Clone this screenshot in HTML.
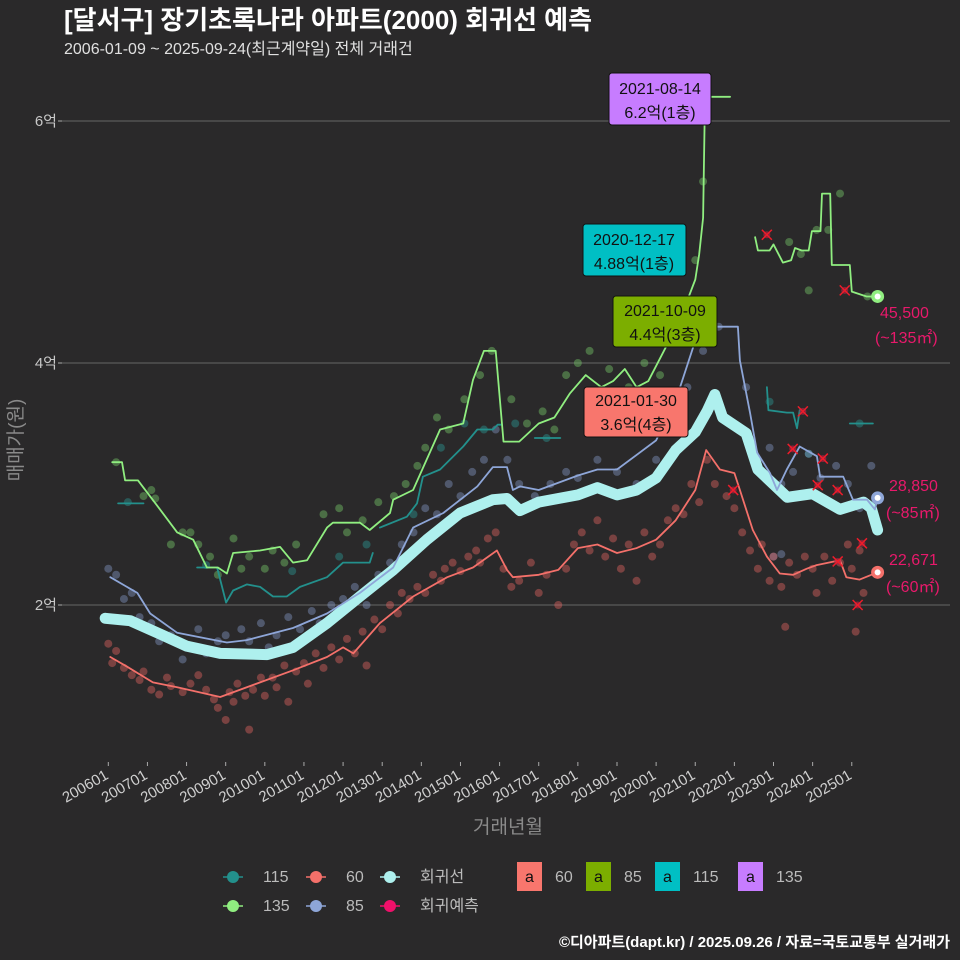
<!DOCTYPE html>
<html><head><meta charset="utf-8">
<style>
html,body{margin:0;padding:0;background:#2a292a;}
#wrap{position:relative;width:960px;height:960px;background:#2a292a;overflow:hidden;font-family:"Liberation Sans","Noto Sans CJK KR",sans-serif;}
svg text{font-family:"Liberation Sans","Noto Sans CJK KR",sans-serif;}
</style></head>
<body>
<div id="wrap">
<svg id="chart" width="960" height="960" viewBox="0 0 960 960">
  <text x="64" y="29" fill="#ffffff" font-size="26" font-weight="bold">[달서구] 장기초록나라 아파트(2000) 회귀선 예측</text>
  <text x="64" y="54" fill="#e0e0e0" font-size="16">2006-01-09 ~ 2025-09-24(최근계약일) 전체 거래건</text>
  <g id="grid"></g>
  <g id="marks"></g>
  <g id="axes"></g>
  <text transform="translate(22,440) rotate(-90)" text-anchor="middle" fill="#8a8a8a" font-size="19">매매가(원)</text>
  <text x="508" y="833" text-anchor="middle" fill="#8a8a8a" font-size="19">거래년월</text>

  <g>
    <rect x="609" y="73" width="102" height="52" rx="3" fill="#c77cff" stroke="#111" stroke-width="1"/>
    <text x="660" y="94" text-anchor="middle" font-size="16" fill="#111">2021-08-14</text>
    <text x="660" y="118" text-anchor="middle" font-size="16" fill="#111">6.2억(1층)</text>
  </g>
  <g>
    <rect x="583" y="224" width="103" height="52" rx="3" fill="#00bfc4" stroke="#111" stroke-width="1"/>
    <text x="634" y="245" text-anchor="middle" font-size="16" fill="#111">2020-12-17</text>
    <text x="634" y="269" text-anchor="middle" font-size="16" fill="#111">4.88억(1층)</text>
  </g>
  <g>
    <rect x="613" y="296" width="104" height="51" rx="3" fill="#7cae00" stroke="#111" stroke-width="1"/>
    <text x="665" y="316" text-anchor="middle" font-size="16" fill="#111">2021-10-09</text>
    <text x="665" y="340" text-anchor="middle" font-size="16" fill="#111">4.4억(3층)</text>
  </g>
  <g>
    <rect x="584" y="387" width="104" height="50" rx="3" fill="#f8766d" stroke="#111" stroke-width="1"/>
    <text x="636" y="406" text-anchor="middle" font-size="16" fill="#111">2021-01-30</text>
    <text x="636" y="430" text-anchor="middle" font-size="16" fill="#111">3.6억(4층)</text>
  </g>

  <g fill="#e8196b" font-size="16">
    <text x="880" y="318">45,500</text>
    <text x="875" y="343">(~135㎡)</text>
    <text x="889" y="491">28,850</text>
    <text x="886" y="518">(~85㎡)</text>
    <text x="889" y="565">22,671</text>
    <text x="886" y="592">(~60㎡)</text>
  </g>

  <g id="legend" font-size="15" fill="#bbbbbb"></g>
  <text x="950" y="947" text-anchor="end" fill="#ffffff" font-size="15" font-weight="bold">©디아파트(dapt.kr) / 2025.09.26 / 자료=국토교통부 실거래가</text>
</svg>
</div>
<script>
// ---- data ----
const yTicks = [2, 4, 6];
const yTickLabels = ["2억", "4억", "6억"];
const xTicks = [2006,2007,2008,2009,2010,2011,2012,2013,2014,2015,2016,2017,2018,2019,2020,2021,2022,2023,2024,2025];
const xTickLabels = ["200601","200701","200801","200901","201001","201101","201201","201301","201401","201501","201601","201701","201801","201901","202001","202101","202201","202301","202401","202501"];

const regLine = [[2005.92,1.89],[2006.56,1.87],[2007.32,1.76],[2008.0,1.66],[2008.86,1.6],[2010.06,1.59],[2010.72,1.65],[2011.59,1.85],[2012.43,2.07],[2013.28,2.29],[2014.14,2.54],[2014.99,2.76],[2015.83,2.87],[2016.19,2.88],[2016.52,2.78],[2017.0,2.85],[2018.0,2.91],[2018.5,2.97],[2019.0,2.91],[2019.5,2.95],[2020.0,3.05],[2020.5,3.28],[2021.0,3.43],[2021.3,3.6],[2021.5,3.74],[2021.7,3.55],[2022.3,3.42],[2022.6,3.12],[2023.35,2.89],[2024.0,2.92],[2024.7,2.79],[2025.3,2.85],[2025.5,2.8],[2025.66,2.62]];

const line60 = [[2006.05,1.57],[2006.48,1.49],[2007.14,1.36],[2007.76,1.32],[2008.86,1.24],[2009.88,1.36],[2010.72,1.46],[2011.59,1.57],[2012.0,1.65],[2012.26,1.6],[2012.94,1.85],[2013.79,2.07],[2014.66,2.23],[2015.32,2.31],[2015.93,2.45],[2016.19,2.29],[2016.34,2.23],[2017.0,2.25],[2017.5,2.29],[2018.0,2.47],[2018.5,2.5],[2019.0,2.43],[2019.5,2.47],[2020.0,2.54],[2020.5,2.7],[2021.0,2.95],[2021.28,3.28],[2021.63,3.12],[2022.0,3.09],[2022.14,2.95],[2022.47,2.62],[2022.83,2.4],[2023.16,2.26],[2023.5,2.25],[2023.85,2.3],[2024.1,2.33],[2024.7,2.37],[2024.86,2.23],[2025.2,2.21],[2025.66,2.27]];

const line85 = [[2006.05,2.23],[2006.74,2.1],[2007.07,1.93],[2007.76,1.77],[2009.03,1.69],[2009.54,1.71],[2010.72,1.81],[2011.59,1.93],[2012.43,2.1],[2013.28,2.31],[2013.79,2.64],[2014.56,2.76],[2015.43,2.98],[2015.83,3.14],[2016.19,3.14],[2016.34,2.95],[2016.52,2.98],[2017.0,2.95],[2018.0,3.07],[2018.5,3.12],[2019.0,3.12],[2020.0,3.36],[2020.5,3.69],[2021.12,4.3],[2021.63,4.3],[2022.09,4.3],[2022.14,4.02],[2022.4,3.59],[2022.58,3.26],[2022.91,3.09],[2023.09,2.95],[2023.34,3.12],[2023.67,3.31],[2024.11,3.23],[2024.19,3.06],[2024.78,3.06],[2025.03,2.87],[2025.39,2.87],[2025.59,2.79],[2025.66,2.885]];

const line135a = [[2006.1,3.18],[2006.35,3.18],[2006.43,3.03],[2006.76,3.03],[2007.32,2.79],[2007.76,2.6],[2008.17,2.54],[2008.52,2.31],[2008.8,2.31],[2009.03,2.26],[2009.19,2.43],[2009.88,2.45],[2010.39,2.48],[2010.72,2.35],[2011.08,2.37],[2011.59,2.64],[2011.74,2.68],[2012.43,2.68],[2012.68,2.62],[2013.2,2.76],[2013.28,2.87],[2013.79,2.95],[2014.48,3.45],[2015.07,3.5],[2015.32,3.86],[2015.6,4.1],[2015.9,4.1],[2016.1,3.35],[2016.5,3.35],[2017.0,3.5],[2017.4,3.55],[2017.8,3.75],[2018.2,3.9],[2018.6,3.8],[2018.9,3.85],[2019.2,3.95],[2019.5,3.8],[2019.8,3.85],[2020.2,4.1],[2020.6,4.35],[2021.0,4.69],[2021.1,4.9],[2021.2,5.2],[2021.25,6.2],[2021.89,6.2]];
const line135b = [[2022.53,5.04],[2022.6,4.93],[2022.9,4.93],[2023.0,4.98],[2023.24,4.83],[2023.45,4.85],[2023.55,4.95],[2023.72,4.93],[2023.9,4.93],[2023.98,5.09],[2024.2,5.09],[2024.24,5.4],[2024.45,5.4],[2024.49,4.81],[2024.95,4.81],[2025.0,4.59],[2025.38,4.55],[2025.66,4.55]];

const line115a = [[2006.25,2.84],[2006.9,2.84]];
const line115b = [[2008.27,2.31],[2008.78,2.31],[2009.01,2.02],[2009.19,2.12],[2009.54,2.17],[2009.88,2.15],[2010.21,2.07],[2010.56,2.07],[2010.9,2.15],[2011.59,2.23],[2012.0,2.35],[2012.68,2.35],[2012.76,2.43]];
const line115c = [[2012.94,2.64],[2013.63,2.73],[2013.89,2.84],[2014.04,3.06],[2014.48,3.12],[2015.07,3.31],[2015.43,3.45],[2015.83,3.45],[2015.95,3.49],[2016.06,3.49]];
const line115d = [[2016.9,3.38],[2017.55,3.38]];
const line115e = [[2018.3,3.61],[2018.8,3.61]];
const line115f = [[2022.83,3.8],[2022.87,3.61],[2023.34,3.59],[2023.5,3.59],[2023.6,3.46],[2023.67,3.61]];
const line115g = [[2024.95,3.5],[2025.54,3.5]];

const dots60 = [[2006.0,1.68],[2006.1,1.52],[2006.2,1.62],[2006.4,1.48],[2006.6,1.42],[2006.8,1.38],[2006.9,1.45],[2007.1,1.3],[2007.3,1.26],[2007.5,1.4],[2007.6,1.33],[2007.9,1.28],[2008.1,1.35],[2008.3,1.42],[2008.5,1.3],[2008.7,1.22],[2008.8,1.15],[2009.0,1.05],[2009.1,1.28],[2009.2,1.2],[2009.3,1.35],[2009.5,1.25],[2009.6,0.97],[2009.7,1.3],[2009.9,1.4],[2010.0,1.25],[2010.2,1.4],[2010.3,1.32],[2010.5,1.5],[2010.6,1.2],[2010.8,1.45],[2011.0,1.52],[2011.1,1.35],[2011.3,1.6],[2011.5,1.48],[2011.7,1.65],[2011.9,1.55],[2012.1,1.72],[2012.3,1.6],[2012.5,1.78],[2012.6,1.5],[2012.8,1.88],[2013.0,1.8],[2013.2,2.0],[2013.4,1.93],[2013.5,2.1],[2013.7,2.05],[2013.9,2.15],[2014.1,2.1],[2014.3,2.25],[2014.5,2.2],[2014.6,2.3],[2014.8,2.35],[2015.0,2.28],[2015.2,2.4],[2015.4,2.45],[2015.5,2.35],[2015.7,2.55],[2015.9,2.6],[2016.1,2.3],[2016.3,2.15],[2016.5,2.2],[2016.8,2.35],[2017.0,2.1],[2017.2,2.25],[2017.5,2.0],[2017.7,2.3],[2017.9,2.5],[2018.1,2.6],[2018.3,2.45],[2018.5,2.7],[2018.7,2.4],[2018.9,2.55],[2019.1,2.3],[2019.3,2.5],[2019.5,2.2],[2019.7,2.6],[2019.9,2.4],[2020.1,2.5],[2020.3,2.7],[2020.5,2.8],[2020.7,2.75],[2020.9,3.0],[2021.1,2.85],[2021.3,3.2],[2021.5,3.0],[2021.8,2.9],[2022.0,2.8],[2022.2,2.6],[2022.4,2.45],[2022.6,2.3],[2022.7,2.5],[2022.9,2.2],[2023.0,2.4],[2023.2,2.15],[2023.3,1.82],[2023.4,2.35],[2023.6,2.25],[2023.8,2.4],[2024.0,2.3],[2024.1,2.1],[2024.3,2.4],[2024.5,2.2],[2024.7,2.35],[2024.9,2.5],[2025.0,2.3],[2025.1,1.78],[2025.2,2.45],[2025.3,2.1]];
const dots85 = [[2006.0,2.3],[2006.2,2.25],[2006.4,2.05],[2006.6,2.1],[2006.8,1.9],[2007.1,1.85],[2007.3,1.7],[2007.6,1.75],[2007.9,1.55],[2008.1,1.65],[2008.3,1.8],[2008.5,1.6],[2008.8,1.7],[2009.0,1.75],[2009.2,1.6],[2009.4,1.8],[2009.6,1.7],[2009.9,1.85],[2010.1,1.65],[2010.3,1.75],[2010.6,1.9],[2010.9,1.8],[2011.2,1.95],[2011.4,1.85],[2011.7,2.0],[2012.0,2.05],[2012.3,2.15],[2012.6,2.0],[2012.9,2.25],[2013.2,2.35],[2013.5,2.5],[2013.8,2.6],[2014.1,2.8],[2014.4,2.75],[2014.7,3.0],[2015.0,2.9],[2015.3,3.1],[2015.6,3.2],[2015.9,3.45],[2016.2,3.2],[2016.5,3.0],[2016.9,2.9],[2017.3,3.0],[2017.7,3.1],[2018.0,3.05],[2018.5,3.2],[2019.0,3.1],[2019.5,3.0],[2020.0,3.2],[2020.4,3.5],[2020.8,3.8],[2021.2,4.1],[2021.6,4.3],[2022.3,3.8],[2022.6,3.2],[2022.9,3.3],[2023.2,3.0],[2023.5,3.1],[2023.9,3.25],[2024.2,3.05],[2024.6,3.15],[2024.9,3.0],[2025.2,2.8],[2025.5,3.15],[2023.0,2.4],[2023.2,2.42]];
const dots135 = [[2006.2,3.18],[2006.9,2.9],[2007.1,2.95],[2007.2,2.88],[2007.6,2.5],[2007.9,2.6],[2008.1,2.6],[2008.3,2.5],[2008.6,2.4],[2008.8,2.25],[2009.2,2.55],[2009.4,2.3],[2009.6,2.4],[2010.0,2.3],[2010.2,2.45],[2010.5,2.35],[2010.8,2.5],[2011.5,2.75],[2011.9,2.8],[2012.1,2.6],[2012.5,2.7],[2012.9,2.85],[2013.3,2.9],[2013.6,3.0],[2013.9,3.15],[2014.1,3.3],[2014.4,3.55],[2014.7,3.45],[2015.1,3.7],[2015.5,3.9],[2015.8,4.1],[2016.3,3.7],[2016.7,3.5],[2017.1,3.6],[2017.4,3.45],[2017.7,3.9],[2018.0,4.0],[2018.3,4.1],[2018.8,3.95],[2019.3,3.8],[2019.7,4.0],[2020.1,3.9],[2020.6,4.3],[2021.0,4.85],[2021.2,5.5],[2023.4,5.0],[2023.7,4.9],[2023.9,4.6],[2024.1,5.1],[2024.4,5.1],[2024.7,5.4],[2025.4,4.55]];
const dots115 = [[2006.5,2.85],[2008.5,2.33],[2010.7,2.28],[2011.9,2.4],[2012.6,2.5],[2013.8,2.75],[2014.5,3.3],[2015.1,3.5],[2015.6,3.45],[2016.4,3.5],[2017.2,3.38],[2018.4,3.65],[2022.9,3.68],[2023.9,3.25],[2025.2,3.5]];
const forecastT = [2022.83,2024.82,2023.75,2023.49,2024.26,2024.13,2024.64,2021.97,2024.64,2025.26,2025.15];
const forecastV = [5.06,4.60,3.60,3.29,3.21,2.99,2.95,2.95,2.36,2.51,2.0];
const endT = [2025.66,2025.66,2025.66];
const endV = [4.55,2.885,2.27];
const endColors = ["#90ee80","#8ea6d8","#f4706a"];

// ---- scales ----
const NS = "http://www.w3.org/2000/svg";
const X0 = 108.3, PX = 39.13;
function xs(t){ return X0 + (t - 2006) * PX; }
function ys(v){ return 847 - v * 121; }
function mk(tag, attrs, parent){ const e = document.createElementNS(NS, tag); for (const k in attrs) e.setAttribute(k, attrs[k]); parent.appendChild(e); return e; }

const grid = document.getElementById('grid');
const marks = document.getElementById('marks');
const axes = document.getElementById('axes');

yTicks.forEach((v, i) => {
  const gl = mk('line', {x1: 62, x2: 950, y1: ys(v), y2: ys(v), stroke: '#666', 'stroke-width': 1}, grid);
  
  
  const tk = mk('line', {x1: 58, x2: 62, y1: ys(v), y2: ys(v), stroke: '#aaa', 'stroke-width': 1}, axes);
  
  
  const tx = mk('text', {x: 57, y: ys(v) + 5, 'text-anchor': 'end', fill: '#c8c8c8', 'font-size': 15}, axes);
  tx.textContent = yTickLabels[i];
  
  
});
xTicks.forEach((t, i) => {
  const x = xs(t);
  const tk = mk('line', {x1: x, x2: x, y1: 762, y2: 766, stroke: '#aaa', 'stroke-width': 1}, axes);
  
  
  const ax = x + 1, ay = 778;
  const tx = mk('text', {x: ax, y: ay, 'text-anchor': 'end', fill: '#d0d0d0', 'font-size': 15, transform: `rotate(-30 ${ax} ${ay})`}, axes);
  tx.textContent = xTickLabels[i];
  
  
});

function pathOf(arr){ return arr.map((p, i) => (i ? 'L' : 'M') + xs(p[0]).toFixed(1) + ' ' + ys(p[1]).toFixed(1)).join(' '); }
function dots(arr, color, op, name){
  const g = mk('g', {}, marks);
  
  
  arr.forEach(p => {
    const c = mk('circle', {cx: xs(p[0]), cy: ys(p[1]), r: 4, fill: color, 'fill-opacity': op}, g);
    
    
  });
}
function line(arr, color, w, name){
  const p = mk('path', {d: pathOf(arr), fill: 'none', stroke: color, 'stroke-width': w, 'stroke-linejoin': 'round', 'stroke-linecap': 'round'}, marks);
  
  
}

dots(dots115, '#2a8a86', 0.5, 'dots-115');
dots(dots135, '#73c466', 0.45, 'dots-135');
dots(dots85, '#8ea6d8', 0.38, 'dots-85');
dots(dots60, '#f06a64', 0.4, 'dots-60');

line(regLine, '#aef0ee', 11, 'regression-line');
[line115a, line115b, line115c, line115d, line115e, line115f, line115g].forEach(a => line(a, '#23908c', 1.8, 'line-115'));
line(line135a, '#90ee80', 1.8, 'line-135');
line(line135b, '#90ee80', 1.8, 'line-135');
line(line85, '#8ea6d8', 1.8, 'line-85');
line(line60, '#f4706a', 1.8, 'line-60');

forecastT.forEach((t, i) => {
  const x = xs(t), y = ys(forecastV[i]);
  const g = mk('g', {}, marks);
  
  
  mk('circle', {cx: x, cy: y, r: 3.5, fill: '#b02040', 'fill-opacity': 0.7}, g);
  mk('path', {d: `M${x-5} ${y-5} L${x+5} ${y+5} M${x-5} ${y+5} L${x+5} ${y-5}`, stroke: '#ee1c2a', 'stroke-width': 1.5}, g);
});

endT.forEach((t, i) => {
  const g = mk('g', {}, marks);
  
  
  mk('circle', {cx: xs(t), cy: ys(endV[i]), r: 6.5, fill: endColors[i]}, g);
  mk('circle', {cx: xs(t), cy: ys(endV[i]), r: 3, fill: '#ffffff'}, g);
});

// ---- legend ----
const legend = document.getElementById('legend');
const legItems = [
  {x: 233, y: 877, c: '#23908c', t: '115'},
  {x: 316, y: 877, c: '#f4706a', t: '60'},
  {x: 390, y: 877, c: '#aef0ee', t: '회귀선'},
  {x: 233, y: 906, c: '#90ee80', t: '135'},
  {x: 316, y: 906, c: '#8ea6d8', t: '85'},
  {x: 390, y: 906, c: '#f0106a', t: '회귀예측'}
];
legItems.forEach(it => {
  const g = mk('g', {}, legend);
  
  
  mk('line', {x1: it.x - 10, x2: it.x + 10, y1: it.y, y2: it.y, stroke: it.c, 'stroke-width': 1.5}, g);
  mk('circle', {cx: it.x, cy: it.y, r: 6, fill: it.c}, g);
  const t = mk('text', {x: it.x + 30, y: it.y + 5, fill: '#bbbbbb', 'font-size': 16}, g);
  t.textContent = it.t;
});
const boxItems = [
  {x: 517, c: '#f8766d', t: '60'},
  {x: 586, c: '#7cae00', t: '85'},
  {x: 655, c: '#00bfc4', t: '115'},
  {x: 738, c: '#c77cff', t: '135'}
];
boxItems.forEach(it => {
  const g = mk('g', {}, legend);
  
  
  mk('rect', {x: it.x, y: 862, width: 25, height: 29, fill: it.c}, g);
  const a = mk('text', {x: it.x + 12.5, y: 882, 'text-anchor': 'middle', fill: '#111', 'font-size': 16}, g);
  a.textContent = 'a';
  const t = mk('text', {x: it.x + 38, y: 882, fill: '#bbbbbb', 'font-size': 16}, g);
  t.textContent = it.t;
});
</script>
</body></html>
